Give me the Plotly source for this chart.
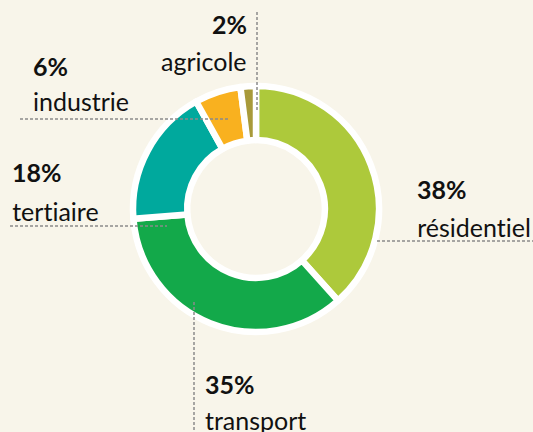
import plotly.graph_objects as go

# Data
categories = ["résidentiel", "transport", "tertiaire", "industrie", "agricole"]
shares = [38, 35, 18, 6, 2]
colors = ["#adc93b", "#13a94a", "#00a99d", "#f9b11f", "#a89a3a"]

W, H = 533, 432
BG = "#f8f5ea"

def px(x):
    return x / W

def py(y):
    return 1 - y / H

cx, cy, R = 256, 209, 123

fig = go.Figure(go.Pie(
    labels=categories,
    values=shares,
    sort=False,
    direction="clockwise",
    rotation=0,
    hole=0.56,
    marker=dict(colors=colors, line=dict(color="white", width=6.5)),
    textinfo="none",
    hoverinfo="label+percent",
    showlegend=False,
    domain=dict(x=[px(cx - R), px(cx + R)], y=[py(cy + R), py(cy - R)]),
))

# label layout: (anchor x, pct y, name y, xanchor)
label_pos = {
    "agricole": (249, 24, 61, "right"),
    "industrie": (31, 66, 101, "left"),
    "tertiaire": (10, 172, 211, "left"),
    "résidentiel": (415, 189, 227, "left"),
    "transport": (203, 384, 420, "left"),
}

font_family = "Lato, 'Open Sans', sans-serif"
annotations = []
for cat, val in zip(categories, shares):
    x, y1, y2, xa = label_pos[cat]
    annotations.append(dict(
        x=px(x), y=py(y1), xref="paper", yref="paper", xanchor=xa, yanchor="middle",
        text=f"<b>{val}%</b>", showarrow=False,
        font=dict(family=font_family, size=25, color="#111111"),
    ))
    annotations.append(dict(
        x=px(x), y=py(y2), xref="paper", yref="paper", xanchor=xa, yanchor="middle",
        text=cat, showarrow=False,
        font=dict(family=font_family, size=25, color="#111111"),
    ))

leader = dict(color="#8a8a8a", width=1.5, dash="3px,2px")
lines = [
    (257, 12, 257, 112),   # agricole
    (20, 119, 230, 119),   # industrie
    (10, 226, 167, 226),   # tertiaire
    (377, 241, 533, 241),  # résidentiel
    (194, 302, 194, 432),  # transport
]
shapes = [dict(type="line", xref="paper", yref="paper",
               x0=px(a), y0=py(b), x1=px(c), y1=py(d), line=leader)
          for a, b, c, d in lines]

fig.update_layout(
    width=W, height=H,
    margin=dict(l=0, r=0, t=0, b=0),
    paper_bgcolor=BG, plot_bgcolor=BG,
    annotations=annotations,
    shapes=shapes,
)

fig.write_html(
    "out.html",
    config={"displayModeBar": False},
    post_script=(
        "document.body.style.margin='0';document.body.style.overflow='hidden';"
        "var s=document.createElement('style');"
        "s.textContent='text{font-variant-ligatures:none !important;font-feature-settings:\"liga\" 0 !important;}';"
        "document.head.appendChild(s);"
    ),
)
